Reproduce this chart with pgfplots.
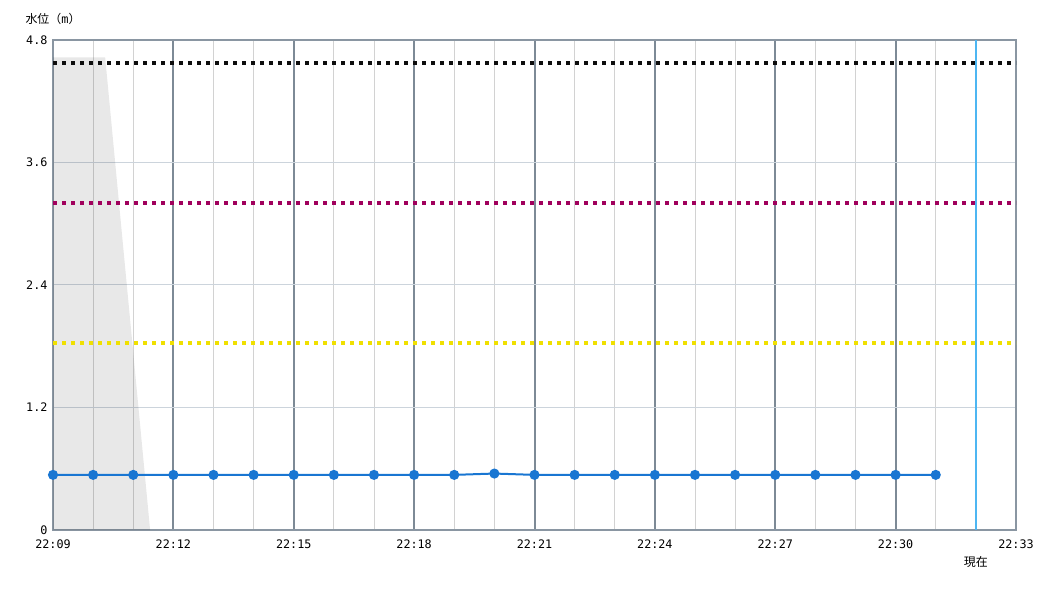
\documentclass[border=0pt]{standalone}
\usepackage{fontspec}
\setmainfont{DejaVu Sans Mono}
\newfontfamily\cjk{Noto Sans CJK JP}
\usepackage{pgfplots}
\pgfplotsset{compat=1.18}
\definecolor{frame}{HTML}{8A96A2}
\definecolor{majgrid}{HTML}{7D8A96}
\definecolor{mingrid}{HTML}{D2D2D2}
\definecolor{hgrid}{HTML}{CCD4DC}
\definecolor{wblue}{HTML}{1976D2}
\definecolor{nowblue}{HTML}{4DB6F2}
\definecolor{maroon}{HTML}{A0005C}
\definecolor{yel}{HTML}{F0E000}
\begin{document}
\begin{tikzpicture}
\begin{axis}[
  scale only axis,
  width=963bp, height=490bp,
  xmin=0, xmax=24, ymin=0, ymax=4.8,
  xtick={0,3,...,24},
  xticklabels={22:09,22:12,22:15,22:18,22:21,22:24,22:27,22:30,22:33},
  minor xtick={1,2,4,5,7,8,10,11,13,14,16,17,19,20,22,23},
  ytick={0,1.2,2.4,3.6,4.8},
  yticklabels={0,1.2,2.4,3.6,4.8},
  xmajorgrids, xminorgrids, ymajorgrids,
  major x grid style={majgrid, line width=2bp},
  minor x grid style={mingrid, line width=1bp},
  major y grid style={hgrid, line width=1bp},
  axis line style={frame, line width=2bp},
  major tick length=0pt, minor tick length=0pt,
  tick label style={font=\fontsize{11.8}{13}\selectfont, text=black},
  xticklabel style={yshift=-6bp},
  yticklabel style={xshift=-2bp},
  clip=false,
]
% gray area
\addplot[draw=none, fill=black, fill opacity=0.09] coordinates {(0,4.63) (1.3,4.63) (2.42,0)} \closedcycle;
% threshold lines
\addplot[black!95, line width=4bp, dash pattern=on 4bp off 5bp] coordinates {(0,4.57) (24,4.57)};
\addplot[maroon, line width=4bp, dash pattern=on 4bp off 5bp] coordinates {(0,3.2) (24,3.2)};
\addplot[yel, line width=4bp, dash pattern=on 4bp off 5bp] coordinates {(0,1.83) (24,1.83)};
% now line
\addplot[nowblue, line width=1.8bp] coordinates {(23,0) (23,4.8)};
% water level
\addplot[wblue, line width=2bp, mark=*, mark size=4bp, mark options={fill=wblue, draw=wblue}] coordinates {
(0,0.54) (1,0.54) (2,0.54) (3,0.54) (4,0.54) (5,0.54) (6,0.54) (7,0.54) (8,0.54) (9,0.54)
(10,0.54) (11,0.553) (12,0.54) (13,0.54) (14,0.54) (15,0.54) (16,0.54) (17,0.54) (18,0.54)
(19,0.54) (20,0.54) (21,0.54) (22,0.54)};
\node[font=\cjk\fontsize{12}{13}\selectfont, anchor=center] at ([yshift=-32bp]axis cs:23,0) {現在};
\node[font=\fontsize{12}{13}\selectfont, anchor=west] at ([xshift=-31bp,yshift=21bp]axis cs:0,4.8) {{\cjk 水位（}m{\cjk ）}};
\coordinate (sw) at (rel axis cs:0,0);
\coordinate (ne) at (rel axis cs:1,1);
\end{axis}
\path ([shift={(-53bp,-70bp)}]sw) rectangle ([shift={(34bp,40bp)}]ne);
\end{tikzpicture}
\end{document}
